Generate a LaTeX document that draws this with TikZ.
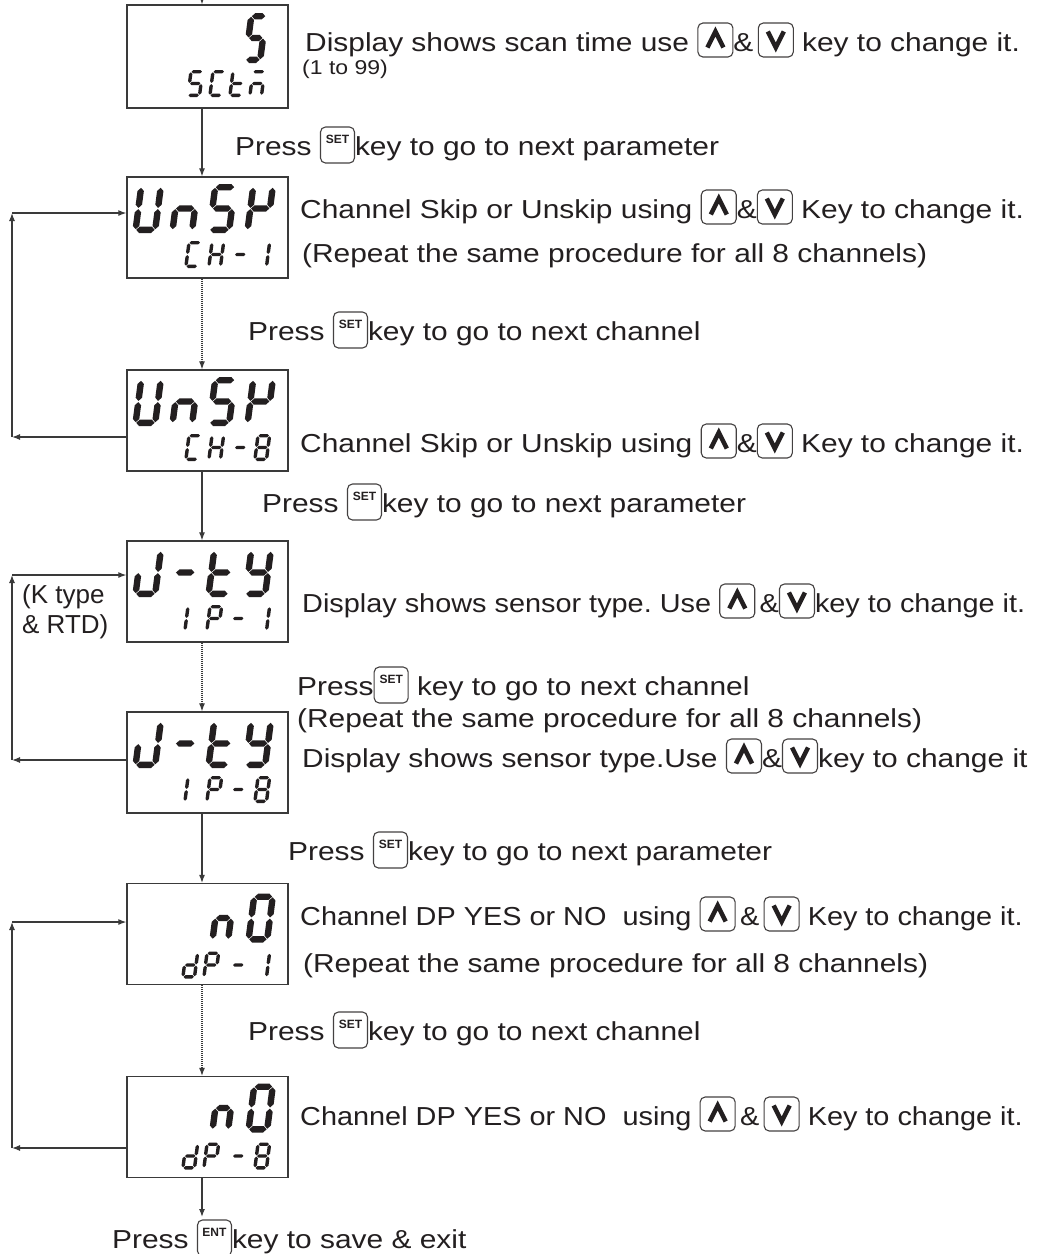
\documentclass[tikz,border=0pt]{standalone}
\usepackage{fontspec}
\setmainfont{Liberation Sans}[FakeStretch=1.15]
\newfontfamily\plainfont{Liberation Sans}
\newfontfamily\narrowfont{Liberation Sans}[FakeStretch=1.11]
\frenchspacing
\usetikzlibrary{arrows.meta}
\definecolor{ink}{HTML}{231F20}
\definecolor{ln}{HTML}{3A3A3A}
\tikzset{
  keyframe/.style={draw=ink!85, line width=1.1pt, rounded corners=5pt},
  keylabel/.style={anchor=center, inner sep=0pt, text=ink, font=\plainfont\bfseries\fontsize{12}{12}\selectfont},
  dispbox/.style={draw=ln, line width=1.3pt, minimum width=161pt, minimum height=101pt, inner sep=0pt},
  txt/.style={anchor=base west, inner sep=0pt, text=ink, font=\fontsize{26}{30}\selectfont},
  ntxt/.style={anchor=base west, inner sep=0pt, text=ink, font=\narrowfont\fontsize{26}{30}\selectfont},
  smalltxt/.style={anchor=base west, inner sep=0pt, text=ink, font=\fontsize{20}{22}\selectfont},
  ktxt/.style={anchor=base west, inner sep=0pt, text=ink, font=\plainfont\fontsize{26}{30}\selectfont},
  arr/.style={draw=ln, line width=1.2pt, -{Latex[length=8pt,width=6pt]}},
  dotarr/.style={arr, dash pattern=on 1pt off 1pt},
}
% keys
\newcommand\kup{\tikz[baseline=0pt,x=1pt,y=1pt]{\draw[keyframe] (0,-6) rectangle (35,28);\draw[ink,line width=4.5pt,miter limit=10] (9.5,3.5)--(17.5,19.5)--(25.5,3.5);}}
\newcommand\kdn{\tikz[baseline=0pt,x=1pt,y=1pt]{\draw[keyframe] (0,-6) rectangle (35,28);\draw[ink,line width=4.5pt,miter limit=10] (9.5,19.5)--(17.5,3.5)--(25.5,19.5);}}
\newcommand\kset{\tikz[baseline=0pt,x=1pt,y=1pt]{\draw[keyframe] (0,-8) rectangle (34,28);\node[keylabel] at (17,16) {SET};}}
\newcommand\kent{\tikz[baseline=0pt,x=1pt,y=1pt]{\draw[keyframe] (0,-8) rectangle (34,28);\node[keylabel] at (17,16) {ENT};}}
% seven segment
\newcommand\hsg[3]{\fill[ink] (#1+\sgap,#3) -- (#1+\sgap+\hs,#3+\hs) -- (#2-\sgap-\hs,#3+\hs) -- (#2-\sgap,#3) -- (#2-\sgap-\hs,#3-\hs) -- (#1+\sgap+\hs,#3-\hs) -- cycle;}
\newcommand\vsg[3]{\fill[ink] (#1,#2+\sgap) -- (#1+\hs,#2+\sgap+\hs) -- (#1+\hs,#3-\sgap-\hs) -- (#1,#3-\sgap) -- (#1-\hs,#3-\sgap-\hs) -- (#1-\hs,#2+\sgap+\hs) -- cycle;}
\newcommand\sega{\hsg{\dL}{\dR}{\dT}}
\newcommand\segg{\hsg{\dL}{\dR}{\dM}}
\newcommand\segd{\hsg{\dL}{\dR}{\dB}}
\newcommand\segf{\vsg{\dL}{\dM}{\dT}}
\newcommand\sege{\vsg{\dL}{\dB}{\dM}}
\newcommand\segb{\vsg{\dR}{\dM}{\dT}}
\newcommand\segc{\vsg{\dR}{\dB}{\dM}}
% #1 x-left, #2 y-bottom (relative, downward), #3 width, #4 height, #5 thickness, #6 segments
\newcommand\sevseg[6]{%
  \begin{scope}[shift={(#1,#2)}, y=1pt, xslant=0.13]
    \pgfmathsetmacro\hs{#5/2}
    \pgfmathsetmacro\dL{#5/2}
    \pgfmathsetmacro\dR{#3-#5/2}
    \pgfmathsetmacro\dB{#5/2}
    \pgfmathsetmacro\dT{#4-#5/2}
    \pgfmathsetmacro\dM{#4/2}
    \pgfmathsetmacro\sgap{0.6}
    \foreach \s in {#6}{\csname seg\s\endcsname}
  \end{scope}}
\newcommand\bigd[2]{\sevseg{#1}{56}{26}{49}{6.4}{#2}}
\newcommand\smalld[2]{\sevseg{#1}{91}{15}{27}{3.4}{#2}}

\begin{document}
\begin{tikzpicture}[x=1pt,y=-1pt]
\useasboundingbox (0,0) rectangle (1043,1254);
\fill[white] (0,0) rectangle (1043,1254);

% display boxes
\node[dispbox, minimum height=103pt] (b1) at (207.5,56.5) {};
\node[dispbox] (b2) at (207.5,227.5) {};
\node[dispbox] (b3) at (207.5,420.5) {};
\node[dispbox] (b4) at (207.5,591.5) {};
\node[dispbox] (b5) at (207.5,762.5) {};
\node[dispbox] (b6) at (207.5,934) {};
\node[dispbox] (b7) at (207.5,1127) {};

% box 1: 5 / SCtn
\begin{scope}[shift={(127,5)}]
  \sevseg{115}{58}{21}{50}{6.4}{a,f,g,c,d}
  \sevseg{59}{92}{15}{27}{3.4}{a,f,g,c,d}
  \sevseg{81}{92}{15}{27}{3.4}{a,f,e,d}
  \sevseg{101}{92}{15}{27}{3.4}{f,e,g,d}
  \sevseg{121}{92}{15}{27}{3.4}{a,e,g,c}
\end{scope}
% box 2: UnSK / CH-1
\begin{scope}[shift={(127,177)}]
  \bigd{5}{b,c,d,e,f}
  \bigd{42}{e,g,c}
  \bigd{79}{a,f,g,c,d}
  \bigd{117}{f,b,g,e}
  \smalld{57}{a,f,e,d}
  \smalld{80}{f,e,b,c,g}
  \smalld{104}{g}
  \smalld{126}{b,c}
\end{scope}
% box 3: UnSK / CH-8
\begin{scope}[shift={(127,370)}]
  \bigd{5}{b,c,d,e,f}
  \bigd{42}{e,g,c}
  \bigd{79}{a,f,g,c,d}
  \bigd{117}{f,b,g,e}
  \smalld{57}{a,f,e,d}
  \smalld{80}{f,e,b,c,g}
  \smalld{104}{g}
  \smalld{126}{a,b,c,d,e,f,g}
\end{scope}
% box 4: J-tY / IP-1
\begin{scope}[shift={(127,541)}]
  \bigd{5}{b,c,d,e}
  \bigd{42}{g}
  \bigd{78}{f,e,g,d}
  \bigd{115}{f,b,g,c,d}
  \smalld{56}{e,f}
  \smalld{78}{a,b,f,g,e}
  \smalld{102}{g}
  \smalld{126}{b,c}
\end{scope}
% box 5: J-tY / IP-8
\begin{scope}[shift={(127,712)}]
  \bigd{5}{b,c,d,e}
  \bigd{42}{g}
  \bigd{78}{f,e,g,d}
  \bigd{115}{f,b,g,c,d}
  \smalld{56}{e,f}
  \smalld{78}{a,b,f,g,e}
  \smalld{102}{g}
  \smalld{126}{a,b,c,d,e,f,g}
\end{scope}
% box 6: n0 / dP-1
\begin{scope}[shift={(127,883.5)}]
  \sevseg{82}{59}{22}{49}{6.4}{e,g,c}
  \sevseg{118}{59}{25}{49}{6.4}{a,b,c,d,e,f}
  \sevseg{54}{95}{15}{27}{3.4}{b,c,d,e,g}
  \sevseg{75}{95}{15}{27}{3.4}{a,b,f,g,e}
  \sevseg{102}{95}{15}{27}{3.4}{g}
  \sevseg{126}{95}{15}{27}{3.4}{b,c}
\end{scope}
% box 7: n0 / dP-8
\begin{scope}[shift={(127,1076.5)}]
  \sevseg{82}{56}{22}{49}{6.4}{e,g,c}
  \sevseg{118}{56}{25}{49}{6.4}{a,b,c,d,e,f}
  \sevseg{54}{93}{15}{27}{3.4}{b,c,d,e,g}
  \sevseg{75}{93}{15}{27}{3.4}{a,b,f,g,e}
  \sevseg{102}{93}{15}{27}{3.4}{g}
  \sevseg{126}{93}{15}{27}{3.4}{a,b,c,d,e,f,g}
\end{scope}

% vertical connectors
\coordinate (top) at (202,0);
\coordinate (endp) at (202,1217);
\draw[arr] (top) -- ([xshift=-5.5pt]b1.north);
\draw[arr] ([xshift=-5.5pt]b1.south) -- ([xshift=-5.5pt]b2.north);
\draw[dotarr] ([xshift=-5.5pt]b2.south) -- ([xshift=-5.5pt]b3.north);
\draw[arr] ([xshift=-5.5pt]b3.south) -- ([xshift=-5.5pt]b4.north);
\draw[dotarr] ([xshift=-5.5pt]b4.south) -- ([xshift=-5.5pt]b5.north);
\draw[arr] ([xshift=-5.5pt]b5.south) -- ([xshift=-5.5pt]b6.north);
\draw[dotarr] ([xshift=-5.5pt]b6.south) -- ([xshift=-5.5pt]b7.north);
\draw[arr] ([xshift=-5.5pt]b7.south) -- (endp);

% loops
\coordinate (la1) at (12,437);
\coordinate (la2) at (12,213);
\draw[arr] (b3.west |- la1) -- (la1);
\draw[arr] (la1) -- (la2);
\draw[arr] (la2) -- (b2.west |- la2);
\coordinate (lb1) at (12,760);
\coordinate (lb2) at (12,575);
\draw[arr] (b5.west |- lb1) -- (lb1);
\draw[arr] (lb1) -- (lb2);
\draw[arr] (lb2) -- (b4.west |- lb2);
\coordinate (lc1) at (12,1148);
\coordinate (lc2) at (12,922);
\draw[arr] (b7.west |- lc1) -- (lc1);
\draw[arr] (lc1) -- (lc2);
\draw[arr] (lc2) -- (b6.west |- lc2);

% texts
\node[txt] (t1) at (305,51) {Display shows scan time use \kup\&\,\kdn\ key to change it.};
\node[smalltxt] (t1b) at (302,74) {(1 to 99)};
\node[txt] (t2) at (235,155) {Press \kset{}key to go to next parameter};
\node[txt] (t3) at (300,218) {Channel Skip or Unskip using \kup\&\kdn\ Key to change it.};
\node[txt] (t4) at (302,262) {(Repeat the same procedure for all 8 channels)};
\node[txt] (t5) at (248,340) {Press \kset{}key to go to next channel};
\node[txt] (t6) at (300,452) {Channel Skip or Unskip using \kup\&\kdn\ Key to change it.};
\node[txt] (t7) at (262,512) {Press \kset{}key to go to next parameter};
\node[ntxt] (t8) at (302,612) {Display shows sensor type. Use \kup\,\&\kdn{}key to change it.};
\node[txt] (t9) at (297,695) {Press\kset\ key to go to next channel};
\node[txt] (t10) at (297,727) {(Repeat the same procedure for all 8 channels)};
\node[txt] (t11) at (302,767) {Display shows sensor type.Use \kup\&\kdn{}key to change it};
\node[txt] (t12) at (288,860) {Press \kset{}key to go to next parameter};
\node[ntxt] (t13) at (300,925) {Channel DP YES or NO\ \ using \kup\,\&\,\kdn\ Key to change it.};
\node[txt] (t14) at (303,972) {(Repeat the same procedure for all 8 channels)};
\node[txt] (t15) at (248,1040) {Press \kset{}key to go to next channel};
\node[ntxt] (t16) at (300,1125) {Channel DP YES or NO\ \ using \kup\,\&\,\kdn\ Key to change it.};
\node[txt] (t17) at (112,1248) {Press \kent{}key to save \& exit};
\node[ktxt] (k1) at (22,603) {(K type};
\node[ktxt] (k2) at (22,633) {\& RTD)};
\end{tikzpicture}
\end{document}
